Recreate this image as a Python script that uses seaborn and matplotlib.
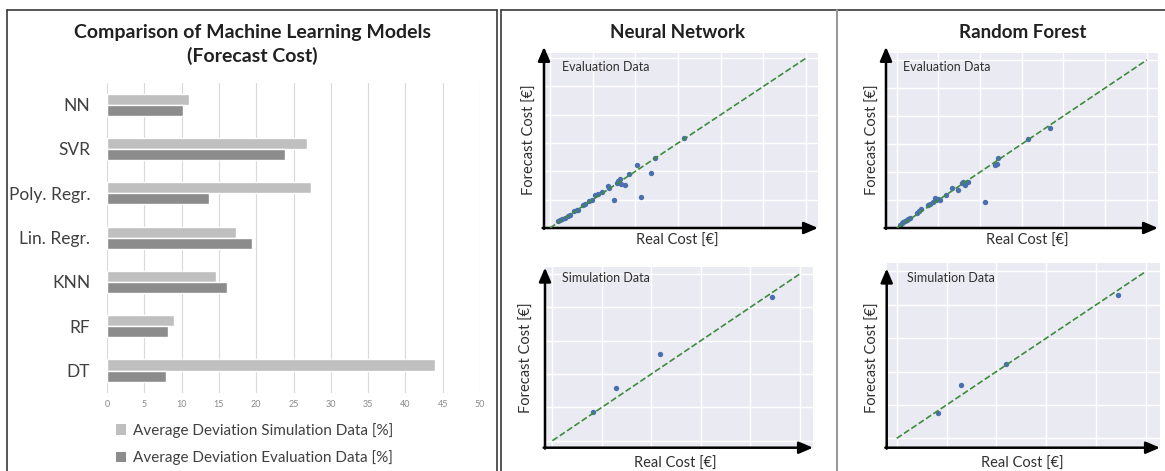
import numpy as np
import pandas as pd
import matplotlib
matplotlib.use("Agg")
import matplotlib.pyplot as plt
from matplotlib.lines import Line2D
from matplotlib.patches import Patch
import seaborn as sns

# ---------------- data ----------------
models = ["NN", "SVR", "Poly. Regr.", "Lin. Regr.", "KNN", "RF", "DT"]
sim_dev = [11.0, 26.8, 27.4, 17.3, 14.6, 9.0, 44.0]
eval_dev = [10.2, 23.9, 13.7, 19.5, 16.1, 8.2, 7.9]
series_names = ["Average Deviation Simulation Data [%]",
                "Average Deviation Evaluation Data [%]"]
bar_ticks = [0, 5, 10, 15, 20, 25, 30, 35, 40, 45, 50]

# Neural network, evaluation data (real, forecast)
nn_eval_real = [0.18, 0.23, 0.29, 0.35, 0.43, 0.47, 0.57, 0.63, 0.66, 0.78, 0.82, 0.91,
                 0.98, 1.05, 1.13, 1.21, 1.35, 1.38, 1.56, 1.60, 1.64, 1.66, 1.76, 1.86,
                 2.03, 1.51, 2.13, 2.37, 2.46, 3.15]
nn_eval_fc = [0.24, 0.28, 0.32, 0.35, 0.41, 0.46, 0.59, 0.62, 0.65, 0.80, 0.84, 0.94,
              0.98, 1.18, 1.20, 1.26, 1.47, 1.41, 1.59, 1.65, 1.73, 1.56, 1.51, 1.91,
              2.24, 0.99, 1.08, 1.93, 2.47, 3.18]
# Random forest, evaluation data
rf_eval_real = [0.08, 0.12, 0.16, 0.20, 0.24, 0.28, 0.32, 0.48, 0.54, 0.58, 0.76, 0.80,
                0.88, 0.92, 0.94, 1.00, 1.04, 1.18, 1.32, 1.48, 1.56, 1.60, 1.64, 1.72,
                2.12, 2.36, 2.40, 2.44, 3.14, 3.68]
rf_eval_fc = [0.12, 0.17, 0.20, 0.24, 0.29, 0.32, 0.36, 0.54, 0.60, 0.68, 0.81, 0.85,
              0.94, 1.07, 1.00, 1.04, 1.01, 1.17, 1.44, 1.37, 1.61, 1.63, 1.55, 1.64,
              0.94, 2.26, 2.30, 2.49, 3.19, 3.57]
# Simulation data
nn_sim_real = [0.83, 1.29, 2.17, 4.45]
nn_sim_fc = [0.86, 1.57, 2.60, 4.30]
rf_sim_real = [0.82, 1.28, 2.20, 4.43]
rf_sim_fc = [0.75, 1.60, 2.23, 4.29]

diag_eval = [0, 6]
diag_sim = [0, 5]

# ---------------- style ----------------
sns.set_theme(style="darkgrid")
FONT = ["Lato", "DejaVu Sans"]
plt.rcParams["font.family"] = FONT

W, H = 1165, 471
fig = plt.figure(figsize=(W / 100, H / 100), dpi=100)
fig.patch.set_facecolor("white")


def rect(l, t, r, b):
    return [l / W, 1 - b / H, (r - l) / W, (b - t) / H]


def fx(x):
    return x / W


def fy(y):
    return 1 - y / H


# ---------------- bar chart ----------------
axb = fig.add_axes(rect(107, 82.5, 480, 392.7))
df = pd.DataFrame({
    "model": models * 2,
    "value": sim_dev + eval_dev,
    "series": [series_names[0]] * len(models) + [series_names[1]] * len(models),
})
sim_col, eval_col = "#bfbfbf", "#8c8c8c"
sns.barplot(data=df, x="value", y="model", hue="series", orient="h",
            palette=[sim_col, eval_col], width=0.5, saturation=1,
            legend=False, ax=axb)
axb.set_facecolor("white")
axb.set_xlim(0, 50)
axb.set_xticks(bar_ticks)
axb.set_xlabel("")
axb.set_ylabel("")
axb.grid(axis="x", color="#d9d9d9", lw=0.8)
axb.grid(axis="y", visible=False)
for s in axb.spines.values():
    s.set_visible(False)
axb.tick_params(axis="x", labelsize=6.5, colors="#8a8a8a", length=0, pad=5)
axb.tick_params(axis="y", labelsize=12.5, colors="#404040", length=0, pad=12)
axb.set_axisbelow(True)

fig.text(fx(252), fy(44.5), "Comparison of Machine Learning Models\n(Forecast Cost)",
         ha="center", va="center", fontsize=14, fontweight="bold",
         linespacing=1.38, color="#202020")

handles = [Patch(facecolor=sim_col, edgecolor="none"),
           Patch(facecolor=eval_col, edgecolor="none")]
fig.legend(handles, series_names, loc="upper left",
           bbox_to_anchor=(fx(116), fy(423)), frameon=False, fontsize=11,
           handlelength=0.65, handleheight=0.65, handletextpad=0.45,
           labelspacing=0.8, borderpad=0, borderaxespad=0,
           labelcolor="#404040")

# ---------------- scatter panels ----------------
pt_col = "#4a6fad"
line_col = "#3d8c3d"


def scatter_panel(r, xlim, ylim, ticks, real, fc, diag, label, ltxt_pos, ytip):
    ax = fig.add_axes(rect(*r))
    ax.set_facecolor("#eaeaf2")
    sns.scatterplot(x=real, y=fc, ax=ax, color=pt_col, s=15, linewidth=0, zorder=3)
    sns.lineplot(x=diag, y=diag, ax=ax, color=line_col, linestyle="--", lw=1.2, zorder=4)
    ax.set_xlim(*xlim)
    ax.set_ylim(*ylim)
    ax.set_xticks(ticks)
    ax.set_yticks(ticks)
    ax.set_xticklabels([])
    ax.set_yticklabels([])
    ax.tick_params(length=0)
    ax.grid(True, color="white", lw=1.0)
    for s in ax.spines.values():
        s.set_visible(False)
    ax.set_xlabel("")
    ax.set_ylabel("")
    ap = dict(arrowstyle="-|>,head_length=0.7,head_width=0.3", lw=1.8,
              color="black", shrinkA=0, shrinkB=0)
    ax.annotate("", xy=(0, ytip), xytext=(0, -0.005), xycoords="axes fraction",
                textcoords="axes fraction", arrowprops=ap, annotation_clip=False)
    ax.annotate("", xy=(1.0, 0), xytext=(-0.005, 0), xycoords="axes fraction",
                textcoords="axes fraction", arrowprops=ap, annotation_clip=False)
    fig.text(fx(ltxt_pos[0]), fy(ltxt_pos[1]), label, ha="left", va="center",
             fontsize=9, color="#303030")
    return ax


ticks_eval = [0, 1, 2, 3, 4, 5, 6]
ticks_sim = [0, 1, 2, 3, 4, 5]

scatter_panel((544, 53, 818, 228), (-0.14, 6.28), (0, 6.18), ticks_eval,
              nn_eval_real, nn_eval_fc, diag_eval, "Evaluation Data", (562, 67), 1.035)
scatter_panel((886, 53, 1158, 228), (-0.26, 6.27), (0, 6.25), ticks_eval,
              rf_eval_real, rf_eval_fc, diag_eval, "Evaluation Data", (903, 67), 1.035)
scatter_panel((545, 266.7, 813, 447.7), (-0.15, 5.27), (-0.21, 5.22), ticks_sim,
              nn_sim_real, nn_sim_fc, diag_sim, "Simulation Data", (562, 278.3), 0.995)
scatter_panel((886.7, 263, 1160, 447.7), (-0.2, 5.28), (-0.28, 5.25), ticks_sim,
              rf_sim_real, rf_sim_fc, diag_sim, "Simulation Data", (907, 277.7), 0.97)

# titles
fig.text(fx(677.5), fy(32), "Neural Network", ha="center", va="center",
         fontsize=13.5, fontweight="bold", color="#202020")
fig.text(fx(1023), fy(32), "Random Forest", ha="center", va="center",
         fontsize=13.5, fontweight="bold", color="#202020")

# axis labels
lab_kw = dict(fontsize=10.5, color="#303030", family=FONT)
for (x, y) in [(530, 140), (873, 140), (527, 358), (873, 358)]:
    fig.text(fx(x), fy(y), "Forecast Cost [€]", rotation=90, ha="center",
             va="center", **lab_kw)
for (x, y) in [(677, 241), (1027, 241), (675, 464), (1022, 464)]:
    fig.text(fx(x), fy(y), "Real Cost [€]", ha="center", va="center", **lab_kw)

# ---------------- frame lines ----------------
def fline(x0, y0, x1, y1, color="#3a3a3a", lw=1.2):
    fig.add_artist(Line2D([fx(x0), fx(x1)], [fy(y0), fy(y1)], color=color, lw=lw,
                          transform=fig.transFigure))


fline(7, 10, 497, 10)
fline(7, 10, 7, 471)
fline(497, 10, 497, 471)
fline(501, 10, 1165, 10)
fline(501, 10, 501, 471)
fline(837, 10, 837, 471, color="#9a9a9a", lw=1.5)

fig.savefig("out.png", dpi=100, facecolor="white")
